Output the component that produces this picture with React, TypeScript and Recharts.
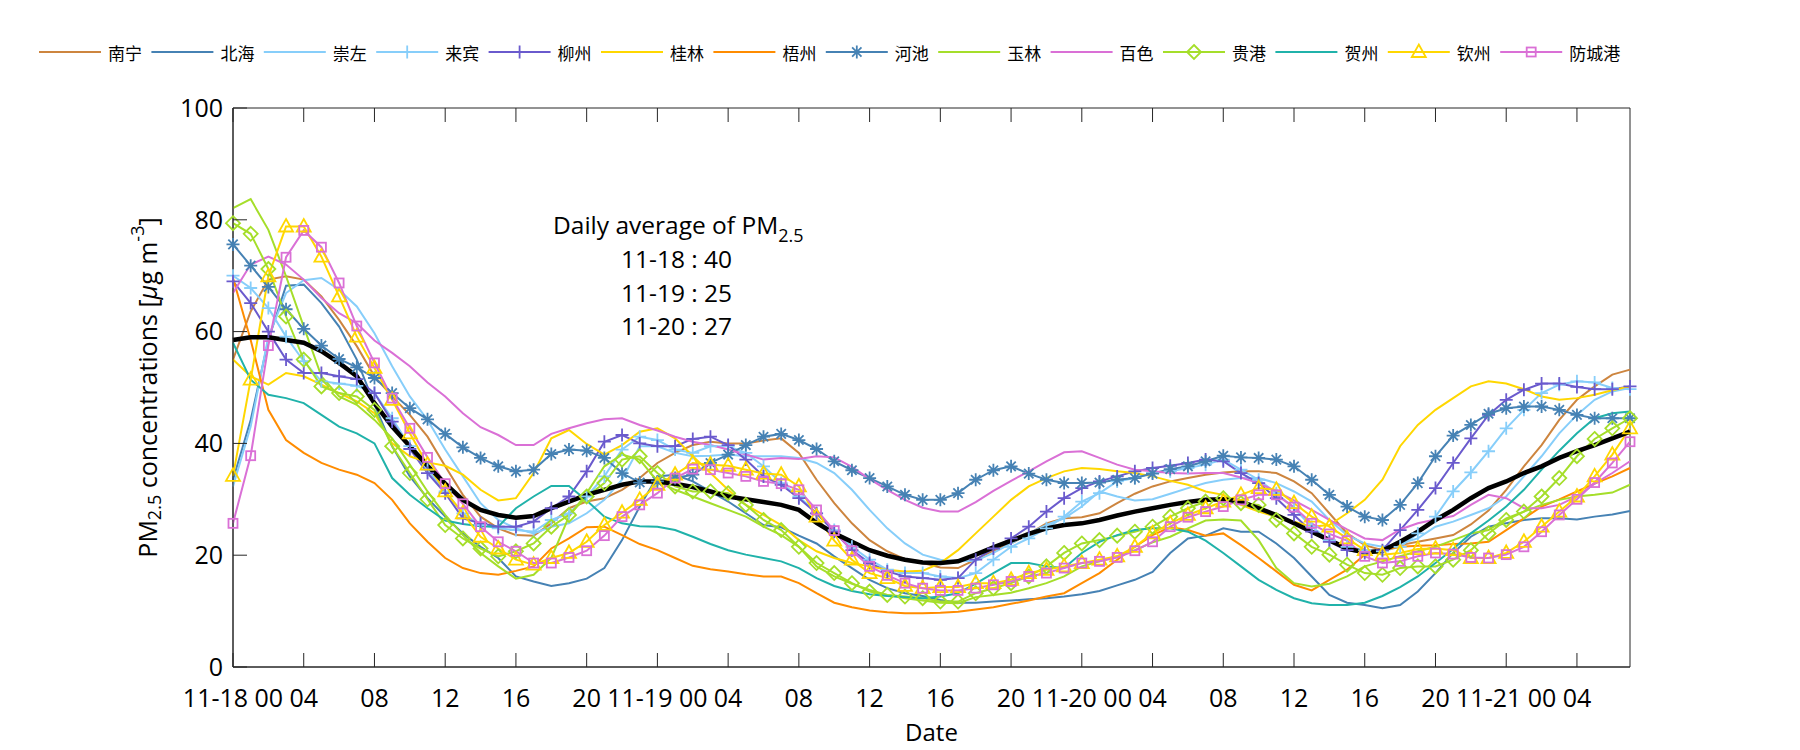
import React from "react";
import { LineChart, Line, XAxis, YAxis, Legend, ReferenceArea } from "recharts";

// hourly samples, 11-18 00:00 .. 11-21 07:00
const hours = Array.from({ length: 80 }, (_, i) => i);
const xTicks = [0, 4, 8, 12, 16, 20, 24, 28, 32, 36, 40, 44, 48, 52, 56, 60, 64, 68, 72, 76];
const xTickLabels = [
  "11-18 00", "04", "08", "12", "16", "20",
  "11-19 00", "04", "08", "12", "16", "20",
  "11-20 00", "04", "08", "12", "16", "20",
  "11-21 00", "04",
];
const yTicks = [0, 20, 40, 60, 80, 100];

const nanning = [
  55.0, 63.6, 69.3, 69.9, 69.3, 66.3, 62.1, 57.4, 52.0, 48.4, 45.1, 41.2, 35.9, 30.8, 26.9, 24.8,
  23.6, 23.5, 25.7, 28.4, 29.6, 30.2, 31.7, 33.8, 36.5, 38.3, 39.7, 40.3, 40.0, 40.0, 40.5, 40.9,
  38.3, 33.5, 29.3, 25.7, 22.7, 20.7, 19.3, 18.6, 17.8, 17.7, 19.2, 20.8, 22.1, 23.8, 25.7, 26.6,
  26.8, 27.5, 29.3, 31.0, 32.3, 33.2, 33.8, 34.4, 34.8, 35.0, 35.0, 34.7, 33.2, 31.1, 27.5, 23.9,
  21.8, 20.9, 21.8, 22.4, 23.0, 23.6, 25.5, 28.0, 31.7, 35.9, 39.7, 44.2, 47.8, 50.2, 52.3, 53.2,
];
const beihai = [
  33.5, 44.2, 58.5, 68.2, 68.4, 65.1, 60.9, 55.0, 47.0, 39.5, 34.1, 30.2, 26.9, 23.9, 21.5, 19.5,
  16.2, 15.3, 14.5, 15.0, 15.8, 17.7, 22.7, 28.7, 34.1, 34.4, 33.2, 31.4, 29.6, 27.5, 25.4, 25.0,
  23.5, 22.1, 19.8, 17.7, 15.6, 14.1, 13.2, 12.7, 12.0, 11.5, 11.5, 11.7, 11.9, 12.1, 12.3, 12.6,
  13.0, 13.6, 14.6, 15.6, 17.0, 20.4, 23.0, 23.5, 24.8, 24.2, 24.2, 22.1, 19.5, 16.2, 12.9, 11.5,
  11.1, 10.5, 11.1, 13.5, 16.8, 20.4, 23.3, 25.1, 25.7, 26.3, 26.6, 26.6, 26.4, 26.9, 27.3, 27.9,
];
const chongzuo = [
  32.3, 43.0, 59.1, 66.9, 69.2, 69.6, 67.5, 64.5, 59.7, 53.8, 48.4, 44.2, 38.9, 34.1, 29.3, 26.3,
  24.8, 23.9, 25.1, 25.7, 27.5, 29.9, 33.5, 39.5, 39.5, 38.3, 37.7, 37.8, 38.0, 37.7, 37.7, 37.7,
  37.4, 36.5, 34.7, 31.7, 28.1, 24.8, 22.1, 20.1, 19.2, 18.9, 19.0, 20.4, 22.1, 23.9, 25.4, 26.6,
  28.7, 31.4, 30.5, 29.8, 30.0, 31.0, 32.0, 32.9, 33.5, 33.8, 33.8, 32.9, 31.4, 29.6, 26.3, 23.6,
  22.1, 21.5, 22.1, 23.0, 25.1, 26.0, 27.2, 28.4, 30.5, 34.1, 37.7, 41.8, 45.1, 47.8, 49.3, 49.9,
];
const laibin = [
  70.0, 67.8, 64.2, 59.1, 54.7, 51.1, 50.7, 50.3, 49.0, 44.5, 39.5, 35.3, 31.4, 27.5, 25.4, 24.8,
  24.5, 24.2, 26.3, 27.5, 30.5, 34.1, 38.9, 41.2, 40.6, 38.9, 38.3, 39.5, 39.5, 38.3, 35.9, 32.9,
  30.5, 27.5, 24.5, 21.5, 19.2, 17.4, 16.8, 16.8, 16.2, 15.9, 16.8, 19.2, 21.5, 23.0, 24.8, 26.9,
  29.6, 31.1, 33.2, 33.8, 34.7, 35.0, 35.6, 36.2, 37.1, 35.3, 33.5, 31.1, 28.4, 25.1, 22.7, 21.5,
  20.9, 20.7, 21.5, 23.9, 26.9, 31.4, 34.8, 38.6, 42.7, 46.0, 49.0, 50.5, 51.1, 50.9, 49.9, 49.7,
];
const liuzhou = [
  69.0, 65.1, 60.0, 55.0, 52.6, 52.6, 52.0, 51.5, 49.0, 43.9, 39.0, 34.7, 31.1, 26.6, 25.7, 25.1,
  25.1, 26.0, 28.4, 30.5, 35.0, 40.3, 41.5, 40.0, 39.5, 39.5, 40.8, 41.2, 39.7, 37.1, 34.1, 32.6,
  30.2, 27.5, 24.2, 20.9, 18.6, 17.1, 16.2, 15.9, 15.6, 15.9, 19.2, 21.2, 23.0, 25.1, 27.8, 30.2,
  32.0, 33.2, 34.1, 35.0, 35.6, 36.0, 36.5, 37.1, 36.8, 34.7, 32.9, 30.2, 27.2, 24.2, 22.4, 20.9,
  20.4, 20.9, 24.5, 28.1, 32.0, 36.5, 40.9, 45.1, 47.8, 49.6, 50.7, 50.7, 50.1, 49.7, 49.7, 50.2,
];
const guilin = [
  55.0, 52.0, 50.5, 52.6, 52.0, 50.5, 49.0, 47.5, 45.4, 40.0, 37.7, 36.6, 36.0, 34.4, 31.7, 29.8,
  30.2, 34.7, 40.9, 42.4, 39.9, 38.0, 39.7, 42.1, 42.7, 40.9, 37.7, 34.7, 31.7, 29.0, 27.2, 25.4,
  22.7, 20.7, 19.5, 18.6, 18.0, 17.4, 17.1, 17.2, 18.6, 20.9, 23.9, 26.9, 29.9, 32.3, 33.8, 35.0,
  35.6, 35.4, 35.0, 34.7, 34.1, 33.3, 32.6, 31.4, 30.8, 29.0, 27.8, 26.9, 26.0, 25.1, 25.4, 27.5,
  29.9, 33.5, 39.5, 43.3, 46.0, 48.1, 50.2, 51.1, 50.7, 49.7, 48.4, 47.8, 48.1, 48.7, 49.5, 50.2,
];
const wuzhou = [
  69.6, 58.5, 46.0, 40.6, 38.3, 36.5, 35.3, 34.4, 32.9, 29.9, 25.7, 22.4, 19.5, 17.7, 16.8, 16.5,
  17.2, 18.0, 21.2, 23.0, 25.0, 25.1, 23.6, 22.0, 20.9, 19.5, 18.1, 17.5, 17.1, 16.6, 16.2, 16.2,
  15.0, 13.2, 11.5, 10.7, 10.1, 9.8, 9.6, 9.6, 9.7, 9.9, 10.3, 10.7, 11.3, 11.9, 12.6, 13.2,
  15.0, 16.8, 19.2, 21.5, 23.6, 25.0, 24.5, 23.5, 23.9, 21.8, 19.5, 17.1, 14.7, 13.7, 15.6, 17.4,
  20.1, 20.9, 21.5, 21.7, 21.8, 22.0, 22.1, 22.4, 24.5, 26.6, 28.7, 30.0, 31.4, 32.8, 34.1, 35.6,
];
const hechi = [
  75.6, 71.8, 68.0, 64.0, 60.5, 57.5, 55.1, 53.6, 51.7, 49.0, 46.3, 44.3, 41.7, 39.3, 37.4, 35.9,
  35.0, 35.3, 38.1, 38.9, 38.7, 37.4, 34.7, 33.0, 33.2, 33.8, 34.4, 36.5, 38.0, 39.7, 41.2, 41.7,
  40.6, 39.0, 36.8, 35.2, 33.8, 32.3, 30.8, 29.9, 29.9, 31.1, 33.5, 35.2, 35.9, 34.6, 33.5, 32.9,
  32.9, 33.0, 33.5, 33.8, 34.6, 35.4, 35.9, 36.8, 37.8, 37.5, 37.4, 37.1, 35.9, 33.5, 30.8, 28.7,
  26.9, 26.3, 29.0, 32.9, 37.7, 41.4, 43.3, 45.3, 46.3, 46.6, 46.6, 46.0, 45.1, 44.5, 44.5, 44.5,
];
const yulin = [
  82.1, 83.7, 78.2, 69.9, 60.9, 52.0, 48.4, 46.9, 44.2, 40.9, 36.2, 31.4, 27.2, 23.6, 20.4, 18.0,
  15.8, 16.5, 19.5, 26.9, 31.1, 35.9, 38.0, 37.1, 33.2, 31.7, 30.5, 29.3, 28.1, 26.9, 25.1, 23.6,
  21.5, 18.0, 16.2, 14.9, 13.8, 12.9, 12.3, 11.9, 11.5, 11.4, 12.5, 12.9, 13.3, 14.1, 15.0, 16.2,
  18.0, 18.9, 19.8, 20.9, 22.3, 23.3, 24.8, 26.2, 26.4, 26.2, 22.7, 17.7, 15.0, 14.4, 14.9, 16.2,
  18.0, 18.9, 19.8, 20.7, 21.5, 22.7, 23.9, 24.5, 26.6, 27.8, 29.0, 29.9, 30.5, 30.8, 31.2, 32.6,
];
const baise = [
  66.9, 72.0, 73.4, 72.0, 69.3, 66.0, 63.3, 61.5, 58.4, 56.2, 53.8, 50.9, 48.4, 45.4, 42.9, 41.5,
  39.7, 39.7, 41.7, 42.7, 43.6, 44.3, 44.5, 43.3, 42.3, 41.2, 40.3, 39.7, 38.9, 38.0, 37.1, 37.4,
  37.2, 37.7, 37.5, 35.8, 33.6, 31.7, 29.9, 28.5, 27.8, 27.8, 29.5, 31.5, 33.3, 35.0, 36.8, 38.4,
  38.6, 37.4, 36.2, 35.3, 35.0, 34.7, 34.6, 34.7, 34.7, 33.9, 32.9, 31.4, 29.8, 28.1, 26.3, 24.6,
  23.0, 22.7, 24.6, 25.7, 26.4, 27.0, 29.0, 30.8, 30.2, 28.4, 28.4, 29.0, 30.5, 32.8, 34.7, 36.8,
];
const guigang = [
  79.4, 77.5, 71.2, 62.7, 55.0, 50.2, 49.0, 48.4, 46.0, 39.5, 34.7, 30.0, 25.4, 23.0, 21.2, 19.8,
  20.7, 22.1, 25.1, 27.2, 30.5, 32.9, 37.1, 37.7, 34.7, 32.3, 31.4, 31.4, 31.1, 29.0, 26.3, 24.5,
  21.5, 18.6, 16.8, 15.0, 13.5, 12.9, 12.6, 12.3, 11.7, 11.7, 13.2, 14.1, 15.0, 16.2, 18.0, 20.4,
  22.1, 22.7, 23.5, 24.2, 25.1, 26.9, 28.4, 29.6, 30.2, 29.3, 29.0, 26.3, 23.9, 21.5, 20.1, 18.3,
  16.8, 16.5, 17.7, 18.0, 18.0, 19.2, 20.9, 23.9, 26.3, 27.8, 30.5, 33.8, 37.7, 40.8, 42.7, 44.5,
];
const hezhou = [
  58.0, 51.4, 48.7, 48.1, 47.2, 45.1, 43.0, 41.8, 40.0, 33.8, 30.8, 28.4, 26.2, 25.6, 25.2, 25.1,
  28.4, 30.5, 32.4, 32.4, 29.8, 26.9, 25.7, 25.2, 25.1, 24.5, 23.3, 22.0, 20.9, 20.1, 19.5, 18.9,
  17.7, 15.9, 14.5, 13.6, 13.0, 12.7, 12.5, 12.3, 12.6, 13.2, 14.9, 16.8, 18.6, 18.6, 18.0, 17.7,
  20.4, 22.4, 23.6, 24.5, 24.8, 24.8, 24.2, 22.6, 20.4, 18.0, 15.6, 13.8, 12.3, 11.4, 11.1, 11.1,
  11.5, 12.7, 14.3, 16.2, 18.6, 21.1, 23.9, 26.2, 28.7, 31.7, 35.3, 38.7, 41.8, 44.5, 45.4, 45.7,
];
const qinzhou = [
  34.2, 51.4, 69.9, 78.8, 78.8, 73.4, 66.3, 59.1, 53.5, 47.8, 41.8, 36.2, 31.4, 27.5, 23.3, 21.2,
  19.2, 18.3, 19.5, 20.4, 22.4, 25.4, 27.6, 29.9, 32.6, 34.4, 36.5, 36.2, 36.0, 35.3, 34.6, 34.4,
  32.3, 26.9, 22.6, 19.2, 16.8, 15.9, 14.5, 14.1, 14.3, 14.3, 15.0, 15.0, 15.6, 16.8, 17.4, 18.0,
  18.6, 19.2, 19.8, 21.5, 23.9, 25.7, 27.2, 28.4, 29.6, 30.8, 32.0, 31.7, 29.3, 26.9, 25.1, 23.0,
  20.9, 20.1, 20.4, 21.1, 21.2, 20.9, 19.5, 19.5, 20.4, 22.4, 25.1, 27.8, 30.5, 34.1, 38.0, 42.7,
];
const fangchenggang = [
  25.7, 37.8, 57.5, 73.3, 78.1, 75.1, 68.7, 61.0, 54.4, 48.1, 42.7, 37.5, 32.8, 29.2, 25.1, 22.4,
  20.7, 18.6, 18.6, 19.6, 20.8, 23.5, 26.9, 29.0, 31.1, 33.8, 35.4, 35.3, 34.7, 34.1, 33.2, 32.8,
  31.7, 28.1, 24.4, 20.8, 18.0, 16.4, 15.0, 14.1, 13.7, 13.7, 14.1, 14.7, 15.3, 16.2, 16.8, 17.7,
  18.6, 18.9, 19.6, 20.8, 22.4, 25.1, 26.8, 27.8, 28.7, 29.9, 30.8, 30.8, 28.6, 25.7, 23.8, 22.6,
  19.8, 18.6, 18.9, 19.8, 20.4, 20.2, 19.6, 19.5, 20.1, 21.5, 24.2, 27.2, 30.0, 33.0, 36.5, 40.3,
];
const average = [
  58.5, 59.0, 59.0, 58.5, 58.0, 56.5, 54.4, 52.0, 47.2, 43.0, 39.5, 36.0, 32.8, 29.9, 28.1, 27.2,
  26.7, 27.0, 28.4, 29.6, 30.8, 31.7, 32.6, 33.2, 33.2, 32.8, 32.2, 31.4, 30.5, 30.0, 29.5, 29.0,
  28.1, 25.8, 23.9, 22.4, 20.9, 19.9, 19.2, 18.7, 18.6, 18.9, 20.1, 21.4, 22.6, 23.8, 24.8, 25.4,
  25.7, 26.3, 27.1, 27.8, 28.4, 29.0, 29.5, 29.9, 30.0, 29.6, 28.4, 27.2, 25.7, 24.2, 22.7, 21.2,
  20.5, 20.8, 22.4, 24.2, 26.3, 28.1, 30.2, 32.0, 33.2, 34.7, 35.9, 37.4, 38.6, 39.7, 40.9, 42.1,
];

const series = [
  { key: "nanning", name: "南宁", color: "#CD853F", marker: "none", values: nanning },
  { key: "beihai", name: "北海", color: "#4682B4", marker: "none", values: beihai },
  { key: "chongzuo", name: "崇左", color: "#87CEFA", marker: "none", values: chongzuo },
  { key: "laibin", name: "来宾", color: "#87CEFA", marker: "plus", values: laibin },
  { key: "liuzhou", name: "柳州", color: "#6A5ACD", marker: "plus", values: liuzhou },
  { key: "guilin", name: "桂林", color: "#FFD700", marker: "none", values: guilin },
  { key: "wuzhou", name: "梧州", color: "#FF8C00", marker: "none", values: wuzhou },
  { key: "hechi", name: "河池", color: "#4682B4", marker: "star", values: hechi },
  { key: "yulin", name: "玉林", color: "#A5DE2A", marker: "none", values: yulin },
  { key: "baise", name: "百色", color: "#DA70D6", marker: "none", values: baise },
  { key: "guigang", name: "贵港", color: "#A5DE2A", marker: "diamond", values: guigang },
  { key: "hezhou", name: "贺州", color: "#20B2AA", marker: "none", values: hezhou },
  { key: "qinzhou", name: "钦州", color: "#FFD700", marker: "triangle", values: qinzhou },
  { key: "fangchenggang", name: "防城港", color: "#DA70D6", marker: "square", values: fangchenggang },
];

const data = hours.map((h, i) => {
  const row: any = { h, average: average[i] };
  series.forEach((s) => {
    row[s.key] = s.values[i];
  });
  return row;
});

const FONT = "'Open Sans', 'Noto Sans', sans-serif";
const CJK = "'Noto Sans CJK SC', sans-serif";
const AXIS = "#262626";
const TICK_LEN = 14;
const TICK_FONT = 25;

function Marker({ shape, color, cx, cy }: any) {
  const s = 6.5;
  const common = { stroke: color, strokeWidth: 1.8, fill: "none" };
  if (shape === "plus") {
    return <path d={`M${cx - s} ${cy}H${cx + s}M${cx} ${cy - s}V${cy + s}`} {...common} />;
  }
  if (shape === "star") {
    const d = s * 0.72;
    return (
      <path
        d={`M${cx - s} ${cy}H${cx + s}M${cx} ${cy - s}V${cy + s}M${cx - d} ${cy - d}L${cx + d} ${cy + d}M${cx - d} ${cy + d}L${cx + d} ${cy - d}`}
        {...common}
      />
    );
  }
  if (shape === "diamond") {
    const r = 7;
    return <polygon points={`${cx},${cy - r} ${cx + r},${cy} ${cx},${cy + r} ${cx - r},${cy}`} {...common} />;
  }
  if (shape === "triangle") {
    return <polygon points={`${cx},${cy - 7.5} ${cx + 7},${cy + 5} ${cx - 7},${cy + 5}`} {...common} />;
  }
  if (shape === "square") {
    return <rect x={cx - 4.5} y={cy - 4.5} width={9} height={9} {...common} />;
  }
  return null;
}

// inward tick marks, MATLAB style; labels stay outside
const BottomTick = ({ x, y, payload }: any) => {
  const base = y - 22;
  return (
    <g>
      <line x1={x} x2={x} y1={base} y2={base - TICK_LEN} stroke={AXIS} />
      <text x={x} y={y} dy="0.71em" textAnchor="middle" fontSize={TICK_FONT} fontFamily={FONT} fill="#000">
        {xTickLabels[xTicks.indexOf(payload.value)]}
      </text>
    </g>
  );
};
const TopTick = ({ x, y }: any) => <line x1={x} x2={x} y1={y} y2={y + TICK_LEN} stroke={AXIS} />;
const LeftTick = ({ x, y, payload }: any) => {
  const base = x + 10;
  return (
    <g>
      <line x1={base} x2={base + TICK_LEN} y1={y} y2={y} stroke={AXIS} />
      <text x={x} y={y} dy="0.35em" textAnchor="end" fontSize={TICK_FONT} fontFamily={FONT} fill="#000">
        {payload.value}
      </text>
    </g>
  );
};
const RightTick = ({ x, y }: any) => <line x1={x} x2={x - TICK_LEN} y1={y} y2={y} stroke={AXIS} />;

const renderLegend = () => (
  <svg width={1800} height={30}>
    {series.map((s, i) => {
      const x0 = 39 + i * 112.4;
      return (
        <g key={s.key}>
          <line x1={x0} x2={x0 + 62} y1={15} y2={15} stroke={s.color} strokeWidth={2} />
          <Marker shape={s.marker} color={s.color} cx={x0 + 31} cy={15} />
          <text x={x0 + 69} y={15} fontSize={17} fontFamily={CJK} fill="#000" dominantBaseline="central">
            {s.name}
          </text>
        </g>
      );
    })}
  </svg>
);

const YTitle = ({ viewBox }: any) => {
  const cx = viewBox.x - 26;
  const cy = viewBox.y + viewBox.height / 2;
  return (
    <text
      x={cx}
      y={cy}
      transform={`rotate(-90 ${cx} ${cy})`}
      textAnchor="middle"
      dominantBaseline="central"
      fontSize={25}
      fontFamily={FONT}
      fill="#000"
    >
      PM
      <tspan dy={7} fontSize={18}>2.5</tspan>
      <tspan dy={-7}> concentrations [</tspan>
      <tspan fontStyle="italic">μ</tspan>
      <tspan>g m</tspan>
      <tspan dy={-10} fontSize={18}>-3</tspan>
      <tspan dy={10}>]</tspan>
    </text>
  );
};

const XTitle = ({ viewBox }: any) => (
  <text
    x={viewBox.x + viewBox.width / 2}
    y={viewBox.y + 64}
    textAnchor="middle"
    dominantBaseline="central"
    fontSize={24}
    fontFamily={FONT}
    fill="#000"
  >
    Date
  </text>
);

export default function App() {
  return (
    <div style={{ position: "absolute", left: 0, top: 0, width: 1800, height: 750, background: "#fff" }}>
      <LineChart width={1800} height={750} data={data} margin={{ top: 107, right: 169, bottom: 43, left: 173 }}>
        <XAxis
          type="number"
          dataKey="h"
          domain={[0, 79]}
          ticks={xTicks}
          interval={0}
          height={40}
          tickSize={0}
          tickMargin={22}
          tickLine={false}
          tick={<BottomTick />}
          stroke={AXIS}
          label={<XTitle />}
        />
        <XAxis
          xAxisId="top"
          orientation="top"
          type="number"
          dataKey="h"
          domain={[0, 79]}
          ticks={xTicks}
          interval={0}
          height={1}
          tickSize={0}
          tickMargin={0}
          tickLine={false}
          axisLine={false}
          tick={<TopTick />}
        />
        <YAxis
          type="number"
          domain={[0, 100]}
          ticks={yTicks}
          interval={0}
          width={60}
          tickSize={0}
          tickMargin={10}
          tickLine={false}
          tick={<LeftTick />}
          stroke={AXIS}
          label={<YTitle />}
        />
        <YAxis
          yAxisId="right"
          orientation="right"
          type="number"
          domain={[0, 100]}
          ticks={yTicks}
          interval={0}
          width={1}
          tickSize={0}
          tickMargin={0}
          tickLine={false}
          axisLine={false}
          tick={<RightTick />}
        />
        <ReferenceArea x1={0} x2={79} y1={0} y2={100} fill="none" stroke={AXIS} strokeWidth={1} ifOverflow="visible" />
        <Legend
          layout="vertical"
          align="center"
          verticalAlign="middle"
          content={renderLegend}
          wrapperStyle={{ top: 37, left: 0, width: 1800, height: 30 }}
        />
        {series.map((s) => (
          <Line
            key={s.key}
            type="linear"
            dataKey={s.key}
            name={s.name}
            stroke={s.color}
            strokeWidth={2}
            isAnimationActive={false}
            activeDot={false}
            dot={
              s.marker === "none"
                ? false
                : (p: any) => (
                    <Marker key={`${s.key}-${p.index}`} shape={s.marker} color={s.color} cx={p.cx} cy={p.cy} />
                  )
            }
          />
        ))}
        <Line
          type="linear"
          dataKey="average"
          stroke="#000"
          strokeWidth={4.5}
          dot={false}
          activeDot={false}
          isAnimationActive={false}
          legendType="none"
        />
        <g fontFamily={FONT} fontSize={24.5} fill="#000">
          <text x={553} y={234}>
            Daily average of PM
            <tspan dy={8} fontSize={18}>2.5</tspan>
          </text>
          <text x={621} y={268}>11-18 : 40</text>
          <text x={621} y={302}>11-19 : 25</text>
          <text x={621} y={335}>11-20 : 27</text>
        </g>
      </LineChart>
    </div>
  );
}
